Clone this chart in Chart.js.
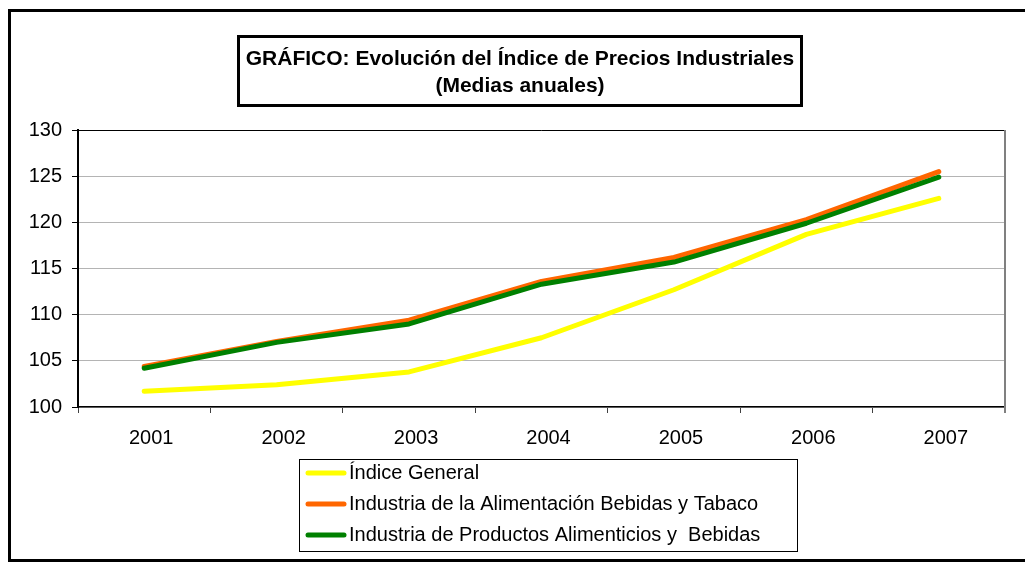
<!DOCTYPE html>
<html>
<head>
<meta charset="utf-8">
<script src="https://cdn.jsdelivr.net/npm/chart.js@4"></script>
<style>
  body { margin: 0; background: #fff; }
  #wrap { width: 1025px; height: 562px; }
</style>
</head>
<body>
<div id="wrap"><canvas id="grafico" width="1025" height="562"></canvas></div>
<script>
const anios = ['2001', '2002', '2003', '2004', '2005', '2006', '2007'];

const indiceGeneral = [101.7, 102.4, 103.8, 107.5, 112.7, 118.7, 122.6];
const alimentacionBebidasTabaco = [104.4, 107.1, 109.4, 113.6, 116.2, 120.3, 125.5];
const productosAlimenticiosBebidas = [104.2, 107.0, 109.0, 113.3, 115.7, 119.9, 124.9];

const nombres = [
  'Índice General',
  'Industria de la Alimentación Bebidas y Tabaco',
  'Industria de Productos Alimenticios y  Bebidas'
];
const colores = ['#ffff00', '#ff6600', '#008000'];

const titulo = [
  'GRÁFICO: Evolución del Índice de Precios Industriales',
  '(Medias anuales)'
];

Chart.defaults.font.family = '"Liberation Sans", Arial, sans-serif';
Chart.defaults.color = '#000';

// marcos, caja del titulo y leyenda al estilo excel
const marcos = {
  id: 'marcos',
  afterDraw(chart) {
    const ctx = chart.ctx;
    const a = chart.chartArea;
    ctx.save();

    // borde del area de trazado
    ctx.lineWidth = 1;
    ctx.strokeStyle = '#000';
    ctx.beginPath();
    ctx.moveTo(a.left, a.top + 0.5);
    ctx.lineTo(a.right, a.top + 0.5);
    ctx.stroke();
    ctx.lineWidth = 2;
    ctx.strokeStyle = '#808080';
    ctx.beginPath();
    ctx.moveTo(a.right, a.top);
    ctx.lineTo(a.right, a.bottom + 6);
    ctx.stroke();

    // marco exterior
    ctx.lineWidth = 3;
    ctx.strokeStyle = '#000';
    ctx.strokeRect(9.5, 10.5, 1030, 550);

    // titulo
    ctx.fillStyle = '#fff';
    ctx.fillRect(238, 36, 563, 70);
    ctx.strokeRect(238.5, 36.5, 563, 69);
    ctx.fillStyle = '#000';
    ctx.font = 'bold 21px "Liberation Sans", Arial, sans-serif';
    ctx.textAlign = 'center';
    ctx.textBaseline = 'middle';
    ctx.fillText(titulo[0], 520, 59);
    ctx.fillText(titulo[1], 520, 86);

    // leyenda
    ctx.lineWidth = 1;
    ctx.strokeRect(299.5, 459.5, 498, 92);
    ctx.font = '20px "Liberation Sans", Arial, sans-serif';
    ctx.textAlign = 'left';
    chart.data.datasets.forEach((ds, i) => {
      const y = 473 + i * 31;
      ctx.strokeStyle = ds.borderColor;
      ctx.lineWidth = 5;
      ctx.lineCap = 'round';
      ctx.beginPath();
      ctx.moveTo(308, y);
      ctx.lineTo(344, y);
      ctx.stroke();
      ctx.fillStyle = '#000';
      ctx.fillText(ds.label, 349, y);
    });
    ctx.restore();
  }
};

const datos = {
  labels: anios,
  datasets: [
    { label: nombres[0], data: indiceGeneral, borderColor: colores[0], order: 3 },
    { label: nombres[1], data: alimentacionBebidasTabaco, borderColor: colores[1], order: 2 },
    { label: nombres[2], data: productosAlimenticiosBebidas, borderColor: colores[2], order: 1 }
  ].map(d => Object.assign(d, {
    backgroundColor: d.borderColor,
    borderWidth: 5,
    pointRadius: 0,
    tension: 0,
    borderCapStyle: 'round',
    borderJoinStyle: 'round',
    fill: false
  }))
};

const config = {
  type: 'line',
  data: datos,
  options: {
    responsive: false,
    animation: false,
    layout: { padding: { top: 130, left: 0, right: 20, bottom: 115 } },
    plugins: {
      legend: { display: false },
      title: { display: false },
      tooltip: { enabled: false }
    },
    scales: {
      x: {
        offset: true,
        afterFit: s => { s.height = 40; },
        grid: { display: true, offset: true, drawOnChartArea: false, tickLength: 6, tickColor: '#404040' },
        border: { color: '#000', width: 1.5 },
        ticks: { font: { size: 20 }, padding: 13, labelOffset: 7, maxRotation: 0 }
      },
      y: {
        min: 100,
        max: 130,
        afterFit: s => { s.width = 78; },
        grid: { color: '#b4b4b4', tickColor: '#000', tickLength: 6 },
        border: { color: '#000', width: 2 },
        ticks: { stepSize: 5, font: { size: 20 }, padding: 10 }
      }
    }
  },
  plugins: [marcos]
};

const grafico = new Chart(document.getElementById('grafico'), config);
</script>
</body>
</html>
